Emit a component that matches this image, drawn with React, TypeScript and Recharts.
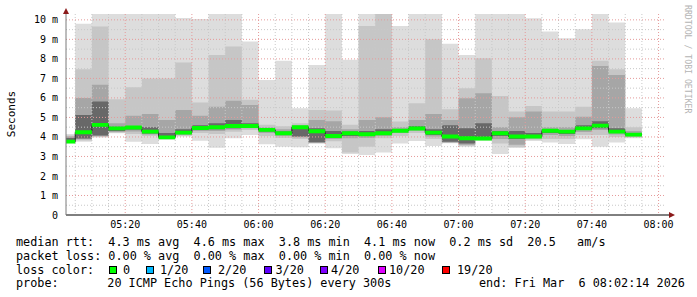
import { Area, CartesianGrid, ComposedChart, Line, XAxis, YAxis } from "recharts";

// 5-minute slots (start times), the first one is partial
const slotStart = [
  "05:02:14", "05:05", "05:10", "05:15", "05:20", "05:25", "05:30", "05:35", "05:40",
  "05:45", "05:50", "05:55", "06:00", "06:05", "06:10", "06:15", "06:20", "06:25",
  "06:30", "06:35", "06:40", "06:45", "06:50", "06:55", "07:00", "07:05", "07:10",
  "07:15", "07:20", "07:25", "07:30", "07:35", "07:40", "07:45", "07:50",
];
const lastSlotEnd = "07:55";
const graphStart = "05:02:14";
const graphEnd = "08:02:14";

// smoke, ms (outer band = min/max of the 20 pings)
const rttMax = [4.15, 9.8, 10.3, 10.3, 10.3, 10.3, 10.3, 10.1, 10.05, 10.3, 10.3, 8.89, 6.92, 7.91, 5.47, 7.69, 10.3, 7.95, 10.3, 10.3, 9.69, 10.3, 10.3, 8.77, 8.2, 10.3, 10.3, 10.3, 10.08, 9.4, 9.06, 9.52, 10.3, 9.86, 5.47];
const hi2 = [4.08, 7.47, 9.66, 5.93, 6.55, 7.0, 7.0, 7.81, 5.76, 8.2, 8.63, 5.9, 4.62, 4.55, 4.7, 5.38, 5.35, 4.62, 9.69, 10.3, 4.79, 5.73, 9.0, 5.42, 6.5, 8.03, 6.1, 5.3, 5.59, 5.3, 5.3, 5.55, 7.91, 7.47, 4.5];
const hi3 = [4.02, 6.0, 6.67, 4.7, 5.08, 5.18, 4.87, 5.38, 5.08, 5.55, 5.86, 5.64, 4.5, 4.4, 4.6, 4.87, 4.8, 4.4, 4.87, 5.01, 4.5, 4.87, 5.18, 4.87, 5.98, 6.24, 4.5, 5.01, 5.3, 4.5, 4.5, 5.04, 7.64, 7.18, 4.3];
const hi4 = [3.95, 5.13, 5.81, 4.52, 4.55, 4.5, 4.2, 4.4, 4.6, 4.7, 4.87, 4.7, 4.42, 4.28, 4.55, 4.45, 4.3, 4.28, 4.3, 4.4, 4.4, 4.55, 4.4, 4.6, 4.44, 4.7, 4.3, 4.3, 4.2, 4.4, 4.35, 4.6, 4.8, 4.45, 4.2];
const median = [3.76, 4.24, 4.62, 4.44, 4.48, 4.27, 3.98, 4.22, 4.46, 4.5, 4.56, 4.56, 4.36, 4.19, 4.5, 4.29, 4.05, 4.19, 4.14, 4.19, 4.32, 4.43, 4.22, 4.02, 3.93, 3.92, 4.19, 4.02, 4.02, 4.32, 4.27, 4.44, 4.58, 4.27, 4.12];
const lo4 = [3.72, 3.92, 4.08, 4.3, 4.38, 4.18, 3.94, 4.15, 4.38, 4.4, 4.45, 4.5, 4.28, 4.12, 4.02, 3.73, 3.98, 4.05, 4.05, 4.12, 4.25, 4.38, 4.1, 3.76, 3.67, 3.88, 4.05, 3.9, 3.97, 4.2, 4.15, 4.35, 4.45, 4.2, 4.06];
const lo3 = [3.7, 3.88, 4.05, 4.25, 4.28, 4.12, 3.92, 4.1, 4.3, 4.3, 4.38, 4.45, 4.2, 4.05, 3.98, 3.7, 3.9, 3.93, 3.95, 4.05, 4.2, 4.32, 4.02, 3.72, 3.6, 3.86, 3.9, 3.6, 3.92, 4.1, 4.05, 4.25, 4.35, 4.12, 4.02];
const lo2 = [3.69, 3.82, 4.0, 4.22, 4.15, 4.05, 3.9, 4.06, 4.2, 4.15, 4.27, 4.35, 4.05, 3.95, 3.9, 3.68, 3.78, 3.2, 3.5, 3.93, 4.05, 4.2, 3.9, 3.7, 3.55, 3.85, 3.67, 3.47, 3.85, 3.9, 3.9, 4.1, 4.1, 4.0, 3.98];
const rttMin = [3.68, 3.76, 3.97, 4.19, 3.76, 3.64, 3.85, 4.02, 3.81, 3.45, 3.93, 4.1, 3.62, 3.5, 3.47, 3.67, 3.42, 3.12, 3.08, 3.2, 3.67, 3.79, 3.54, 3.68, 3.5, 3.8, 3.13, 3.45, 3.79, 3.71, 3.64, 3.88, 3.5, 3.71, 3.93];

const xTickLabels = ["05:20", "05:40", "06:00", "06:20", "06:40", "07:00", "07:20", "07:40", "08:00"];
const yTicks = [0, 1, 2, 3, 4, 5, 6, 7, 8, 9, 10];

const lossColors = [
  { label: "0", color: "#00ff00" },
  { label: "1/20", color: "#00b8ff" },
  { label: "2/20", color: "#0059ff" },
  { label: "3/20", color: "#5e00ff" },
  { label: "4/20", color: "#7e00ff" },
  { label: "10/20", color: "#dd00ff" },
  { label: "19/20", color: "#ff0000" },
];

const toMin = (s: string) => {
  const [h, m, sec = 0] = s.split(":").map(Number);
  return h * 60 + m + sec / 60;
};

const START = toMin(graphStart);
const END = toMin(graphEnd);
const HALF = 0.1; // half thickness of the green median band

const row = (t: number, i: number) => ({
  t,
  outer: [rttMin[i], rttMax[i]],
  b2: [lo2[i], hi2[i]],
  b3: [lo3[i], hi3[i]],
  b4: [lo4[i], hi4[i]],
  med: median[i],
  green: [median[i] - HALF, median[i] + HALF],
});

const data = slotStart.map((s, i) => row(toMin(s), i));
data.push(row(toMin(lastSlotEnd), slotStart.length - 1));

const xTicks = xTickLabels.map(toMin);
const minorX: number[] = [];
for (let t = 305; t <= 480; t += 5) if (t % 20 !== 0) minorX.push(t);
const minorY = yTicks.slice(0, -1).map((v) => v + 0.5);
const majorY = yTicks.slice(1);

const FONT = "DejaVu Sans Mono";
const tickStyle = { fontSize: 10, fill: "#000", fontFamily: FONT };

const legendLine = (top: number): React.CSSProperties => ({
  position: "absolute",
  top,
  left: 16,
  whiteSpace: "pre",
  fontFamily: FONT,
  fontSize: 11.8,
  lineHeight: "12px",
  color: "#000",
});

export default function App() {
  return (
    <div style={{ position: "absolute", left: 0, top: 0, width: 697, height: 297, background: "#fff", overflow: "hidden" }}>
      <div style={{ position: "absolute", left: 0, top: 0 }}>
        <ComposedChart width={697} height={240} data={data} margin={{ top: 14, right: 31, bottom: 0, left: 0 }}>
          <XAxis
            type="number"
            dataKey="t"
            domain={[START, END]}
            allowDataOverflow
            ticks={xTicks}
            interval={0}
            tickFormatter={(v: number) => xTickLabels[xTicks.indexOf(v)] ?? ""}
            tickLine={false}
            tickSize={0}
            tickMargin={6}
            axisLine={{ stroke: "#000" }}
            tick={tickStyle}
            height={25}
          />
          <YAxis
            type="number"
            domain={[0, 10.3]}
            allowDataOverflow
            ticks={yTicks}
            interval={0}
            tickFormatter={(v: number) => (v === 0 ? "0" : `${v} m`)}
            tickLine={false}
            tickSize={0}
            tickMargin={8}
            axisLine={{ stroke: "#7a7a7a" }}
            tick={tickStyle}
            width={66}
          />
          <Area type="stepAfter" dataKey="outer" stroke="none" fill="#dddddd" fillOpacity={1} isAnimationActive={false} dot={false} activeDot={false} />
          <Area type="stepAfter" dataKey="b2" stroke="none" fill="#c6c6c6" fillOpacity={1} isAnimationActive={false} dot={false} activeDot={false} />
          <Area type="stepAfter" dataKey="b3" stroke="none" fill="#a6a6a6" fillOpacity={1} isAnimationActive={false} dot={false} activeDot={false} />
          <Area type="stepAfter" dataKey="b4" stroke="none" fill="#686868" fillOpacity={1} isAnimationActive={false} dot={false} activeDot={false} />
          <CartesianGrid
            horizontalValues={minorY}
            verticalValues={minorX}
            stroke="#c8c8c8"
            strokeDasharray="1 2"
            zIndex={150}
          />
          <CartesianGrid
            horizontalValues={majorY}
            verticalValues={xTicks}
            stroke="#e59a9a"
            strokeDasharray="1 2"
            zIndex={160}
          />
          <Line type="stepAfter" dataKey="med" stroke="#1e1e1e" strokeWidth={1} dot={false} activeDot={false} isAnimationActive={false} />
          <Area type="stepAfter" dataKey="green" stroke="none" fill="#00ff00" fillOpacity={1} isAnimationActive={false} dot={false} activeDot={false} zIndex={450} />
        </ComposedChart>
      </div>

      <svg width={697} height={297} style={{ position: "absolute", left: 0, top: 0, pointerEvents: "none" }}>
        <line x1={666} y1={215} x2={670} y2={215} stroke="#000" />
        <polygon points="63,14 69,14 66,8" fill="#8b1a1a" />
        <polygon points="669,212 669,218 675,215" fill="#8b1a1a" />
        <text
          transform="translate(684.5,5) rotate(90)"
          fontFamily={FONT}
          fontSize={8.2}
          fill="#b4b4b4"
        >
          RRDTOOL / TOBI OETIKER
        </text>
        <text
          transform="translate(15,114) rotate(-90)"
          textAnchor="middle"
          fontFamily={FONT}
          fontSize={11}
          fill="#000"
        >
          Seconds
        </text>
      </svg>

      <div style={legendLine(236)}>
        {"median rtt:  4.3 ms avg  4.6 ms max  3.8 ms min  4.1 ms now  0.2 ms sd  20.5   am/s"}
      </div>
      <div style={legendLine(249.5)}>
        {"packet loss: 0.00 % avg  0.00 % max  0.00 % min  0.00 % now"}
      </div>
      <div style={legendLine(263.5)}>{"loss color:"}</div>
      {lossColors.map((c, i) => {
        const boxX = [108.5, 145.5, 203, 263.5, 320, 377.5, 442][i];
        const textX = [123, 160, 218, 275.5, 331, 389, 457][i];
        return (
          <div key={c.label}>
            <div
              style={{
                position: "absolute",
                left: boxX,
                top: 265.5,
                width: 6,
                height: 6,
                background: c.color,
                border: "1px solid #000",
              }}
            />
            <div style={{ ...legendLine(263.5), left: textX }}>{c.label}</div>
          </div>
        );
      })}
      <div style={legendLine(277)}>{"probe:"}</div>
      <div style={{ ...legendLine(277), left: 107.3 }}>{"20 ICMP Echo Pings (56 Bytes) every 300s"}</div>
      <div style={{ ...legendLine(277), left: 479 }}>{"end: Fri Mar  6 08:02:14 2026"}</div>
    </div>
  );
}
